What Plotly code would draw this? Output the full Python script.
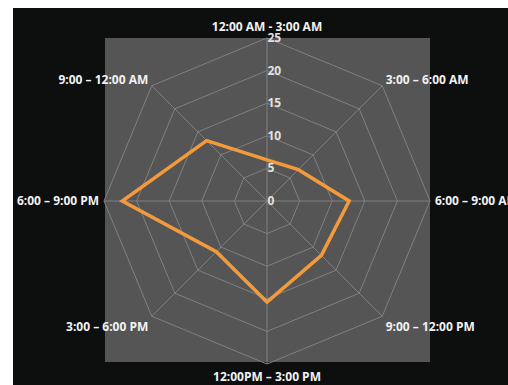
import plotly.graph_objects as go

categories = ["12:00 AM - 3:00 AM", "3:00 – 6:00 AM", "6:00 – 9:00 AM", "9:00 – 12:00 PM",
              "12:00PM – 3:00 PM", "3:00 – 6:00 PM", "6:00 – 9:00 PM", "9:00 – 12:00 AM"]
values = [6.3, 6.8, 12.6, 11.8, 15.5, 11, 22.2, 13.1]
radial_ticks = [0, 5, 10, 15, 20, 25]

W, H = 508, 385
def px(x): return x / W
def py(y): return 1 - y / H

fig = go.Figure()
fig.add_trace(go.Scatterpolar(
    r=values + values[:1],
    theta=categories + categories[:1],
    mode="lines",
    line=dict(color="#f39a3c", width=3.5),
    hoverinfo="skip",
))

grid = "#808080"
fig.update_layout(
    width=W, height=H,
    margin=dict(l=0, r=0, t=0, b=0),
    paper_bgcolor="#ffffff",
    showlegend=False,
    shapes=[
        dict(type="rect", xref="paper", yref="paper", x0=px(13), x1=px(508), y0=py(385), y1=py(8),
             fillcolor="#0d0f0f", line=dict(width=0), layer="below"),
        dict(type="rect", xref="paper", yref="paper", x0=px(105), x1=px(430), y0=py(362), y1=py(38),
             fillcolor="#555555", line=dict(width=0), layer="below"),
    ],
    polar=dict(
        domain=dict(x=[px(104), px(430)], y=[py(364), py(38)]),
        bgcolor="rgba(0,0,0,0)",
        gridshape="linear",
        angularaxis=dict(
            direction="clockwise", rotation=90,
            showline=True, linecolor=grid, linewidth=1,
            gridcolor=grid, gridwidth=1,
            ticks="outside", ticklen=2, tickcolor="rgba(0,0,0,0)",
            tickfont=dict(family="Open Sans", size=12, color="#f2f2f2", weight="bold"),
        ),
        radialaxis=dict(
            range=[0, 25], tickvals=radial_ticks, angle=90, side="clockwise",
            showline=False, gridcolor=grid, gridwidth=1, ticks="",
            tickangle=90,
            tickfont=dict(family="Open Sans", size=12, color="#e0e0e0", weight="bold"),
        ),
    ),
)
fig.write_html("out.html")
